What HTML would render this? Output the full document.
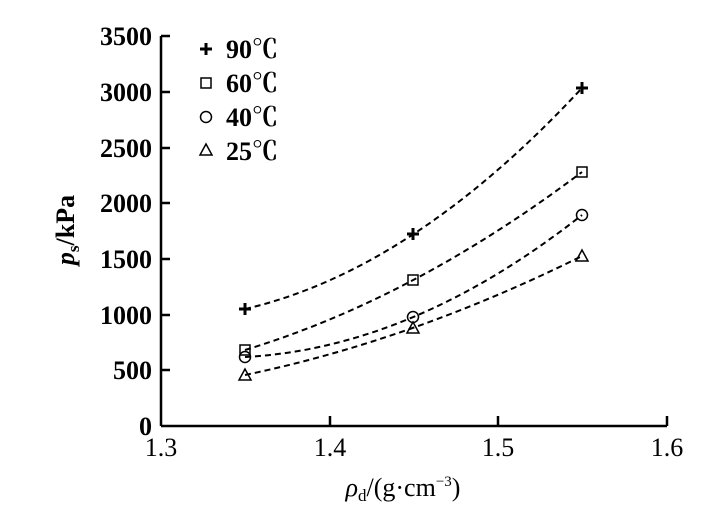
<!DOCTYPE html>
<html><head><meta charset="utf-8"><style>
html,body{margin:0;padding:0;background:#fff;}
svg{display:block;font-family:"Liberation Serif","Noto Serif CJK SC",serif;}
</style></head><body>
<svg width="726" height="520" viewBox="0 0 726 520" xmlns="http://www.w3.org/2000/svg">
<g stroke="#000" stroke-width="2.5" fill="none">
<path d="M161 36 H170 M161 426 V36 M161 426 H667"/>
<path d="M161 92 H170 M161 148 H170 M161 203 H170 M161 259 H170 M161 315 H170 M161 370 H170"/>
<path d="M330 426 V416 M498 426 V416 M667 426 V416"/>
</g>
<g font-size="26" font-weight="bold" text-anchor="end">
<text x="152" y="45">3500</text><text x="152" y="101">3000</text><text x="152" y="157">2500</text>
<text x="152" y="212">2000</text><text x="152" y="268">1500</text><text x="152" y="324">1000</text>
<text x="152" y="379">500</text><text x="152" y="435">0</text>
</g>
<g font-size="26" text-anchor="middle">
<text x="161" y="456">1.3</text><text x="330" y="456">1.4</text><text x="498" y="456">1.5</text><text x="667" y="456">1.6</text>
</g>
<text x="403" y="496" font-size="26" text-anchor="middle"><tspan font-style="italic">ρ</tspan><tspan font-size="17" dy="5">d</tspan><tspan dy="-5">/(g·cm</tspan><tspan font-size="15" dy="-10">−3</tspan><tspan dy="10">)</tspan></text>
<text transform="translate(74,230) rotate(-90)" font-size="26" font-weight="bold" text-anchor="middle"><tspan font-style="italic">p</tspan><tspan font-size="17" dy="5">s</tspan><tspan dy="-5">/kPa</tspan></text>
<g stroke="#000" stroke-width="2" fill="none" stroke-dasharray="6,4">
<path d="M245 309 Q413 270 582 88"/>
<path d="M245 350 Q413 299 582 172"/>
<path d="M245 357 Q413 348 582 215"/>
<path d="M245 375 Q413 340 582 256"/>
</g>
<g stroke="#000" stroke-width="2" fill="none">
<path d="M239 309 H251 M245 303 V315" stroke-width="3"/>
<path d="M407 234 H419 M413 228 V240" stroke-width="3"/>
<path d="M576 88 H588 M582 82 V94" stroke-width="3"/>
<rect x="240" y="345" width="10" height="10" stroke-width="1.5"/>
<rect x="408" y="275" width="10" height="10" stroke-width="1.5"/>
<rect x="577" y="167" width="10" height="10" stroke-width="1.5"/>
<circle cx="245" cy="357" r="5.5" stroke-width="1.5"/>
<circle cx="413" cy="317" r="5.5" stroke-width="1.5"/>
<circle cx="582" cy="215" r="5.5" stroke-width="1.5"/>
<path d="M245 369 L251 380 H239 Z" stroke-width="1.5"/>
<path d="M413 322 L419 333 H407 Z" stroke-width="1.5"/>
<path d="M582 250 L588 261 H576 Z" stroke-width="1.5"/>
<path d="M200 49 H212 M206 43 V55" stroke-width="3"/>
<rect x="201" y="78" width="10" height="10" stroke-width="1.5"/>
<circle cx="206" cy="117" r="5.5" stroke-width="1.5"/>
<path d="M206 144 L212 155 H200 Z" stroke-width="1.5"/>
</g>
<g font-size="26" font-weight="bold">
<text x="226" y="58">90℃</text><text x="226" y="92">60℃</text><text x="226" y="126">40℃</text><text x="226" y="160">25℃</text>
</g>
</svg>
</body></html>
